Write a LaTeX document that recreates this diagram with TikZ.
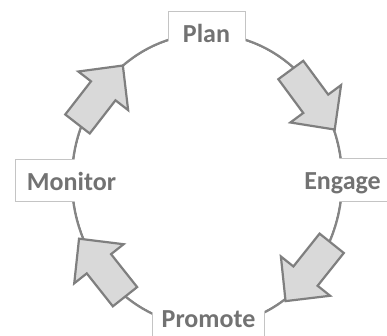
\documentclass[tikz,border=0pt]{standalone}
\usepackage{fontspec}
\setmainfont{Carlito}
\definecolor{ringgray}{HTML}{858585}
\definecolor{boxgray}{HTML}{C4C4C4}
\definecolor{txtgray}{HTML}{727272}
\definecolor{arrowfill}{HTML}{D9D9D9}
\definecolor{arrowline}{HTML}{7F7F7F}
\begin{document}
\begin{tikzpicture}[x=1pt,y=1pt,
  ring/.style={draw=ringgray,line width=2.6pt},
  boxstyle/.style={draw=boxgray,line width=1pt,fill=white,inner sep=0pt},
  label/.style={text=txtgray,font=\fontsize{26}{30}\selectfont\bfseries,inner sep=0pt,anchor=base},
  blockarrow/.style={draw=arrowline,fill=arrowfill,line width=2.2pt,line join=miter}]
\useasboundingbox (0,0) rectangle (387,336);
\coordinate (c) at (207,156);
% ring
\draw[ring] (c) ellipse [x radius=135, y radius=146];
% boxes
\node[boxstyle,minimum width=77pt,minimum height=43pt] (planbox) at (206.5,302.5) {};
\node[boxstyle,minimum width=113pt,minimum height=42pt] (monitorbox) at (71.5,155) {};
\node[boxstyle,minimum width=107pt,minimum height=43pt] (engagebox) at (346.5,155.5) {};
\node[boxstyle,minimum width=112pt,minimum height=50pt] (promotebox) at (208.5,15) {};
% hide box borders inside ring
\fill[white] (c) ellipse [x radius=133.7, y radius=144.7];
% labels
\node[label] (plan) at (206.5,293) {Plan};
\node[label] (monitor) at (71.5,145) {Monitor};
\node[label] (engage) at (342.5,146) {Engage};
\node[label] (promote) at (208.5,8.5) {Promote};
% arrows
\foreach \name/\px/\py/\ang in {a1/290.8/266/-53.6, a2/331.7/92.7/-128.6, a3/125/39.3/128.4, a4/77.5/212/52.2}{
  \begin{scope}[shift={(\px,\py)},rotate=\ang]
    \draw[blockarrow] (0,-15.5) -- (42,-15.5) -- (42,-31.5) -- (74,0) -- (42,31.5) -- (42,15.5) -- (0,15.5) -- cycle;
  \end{scope}
}
\end{tikzpicture}
\end{document}
